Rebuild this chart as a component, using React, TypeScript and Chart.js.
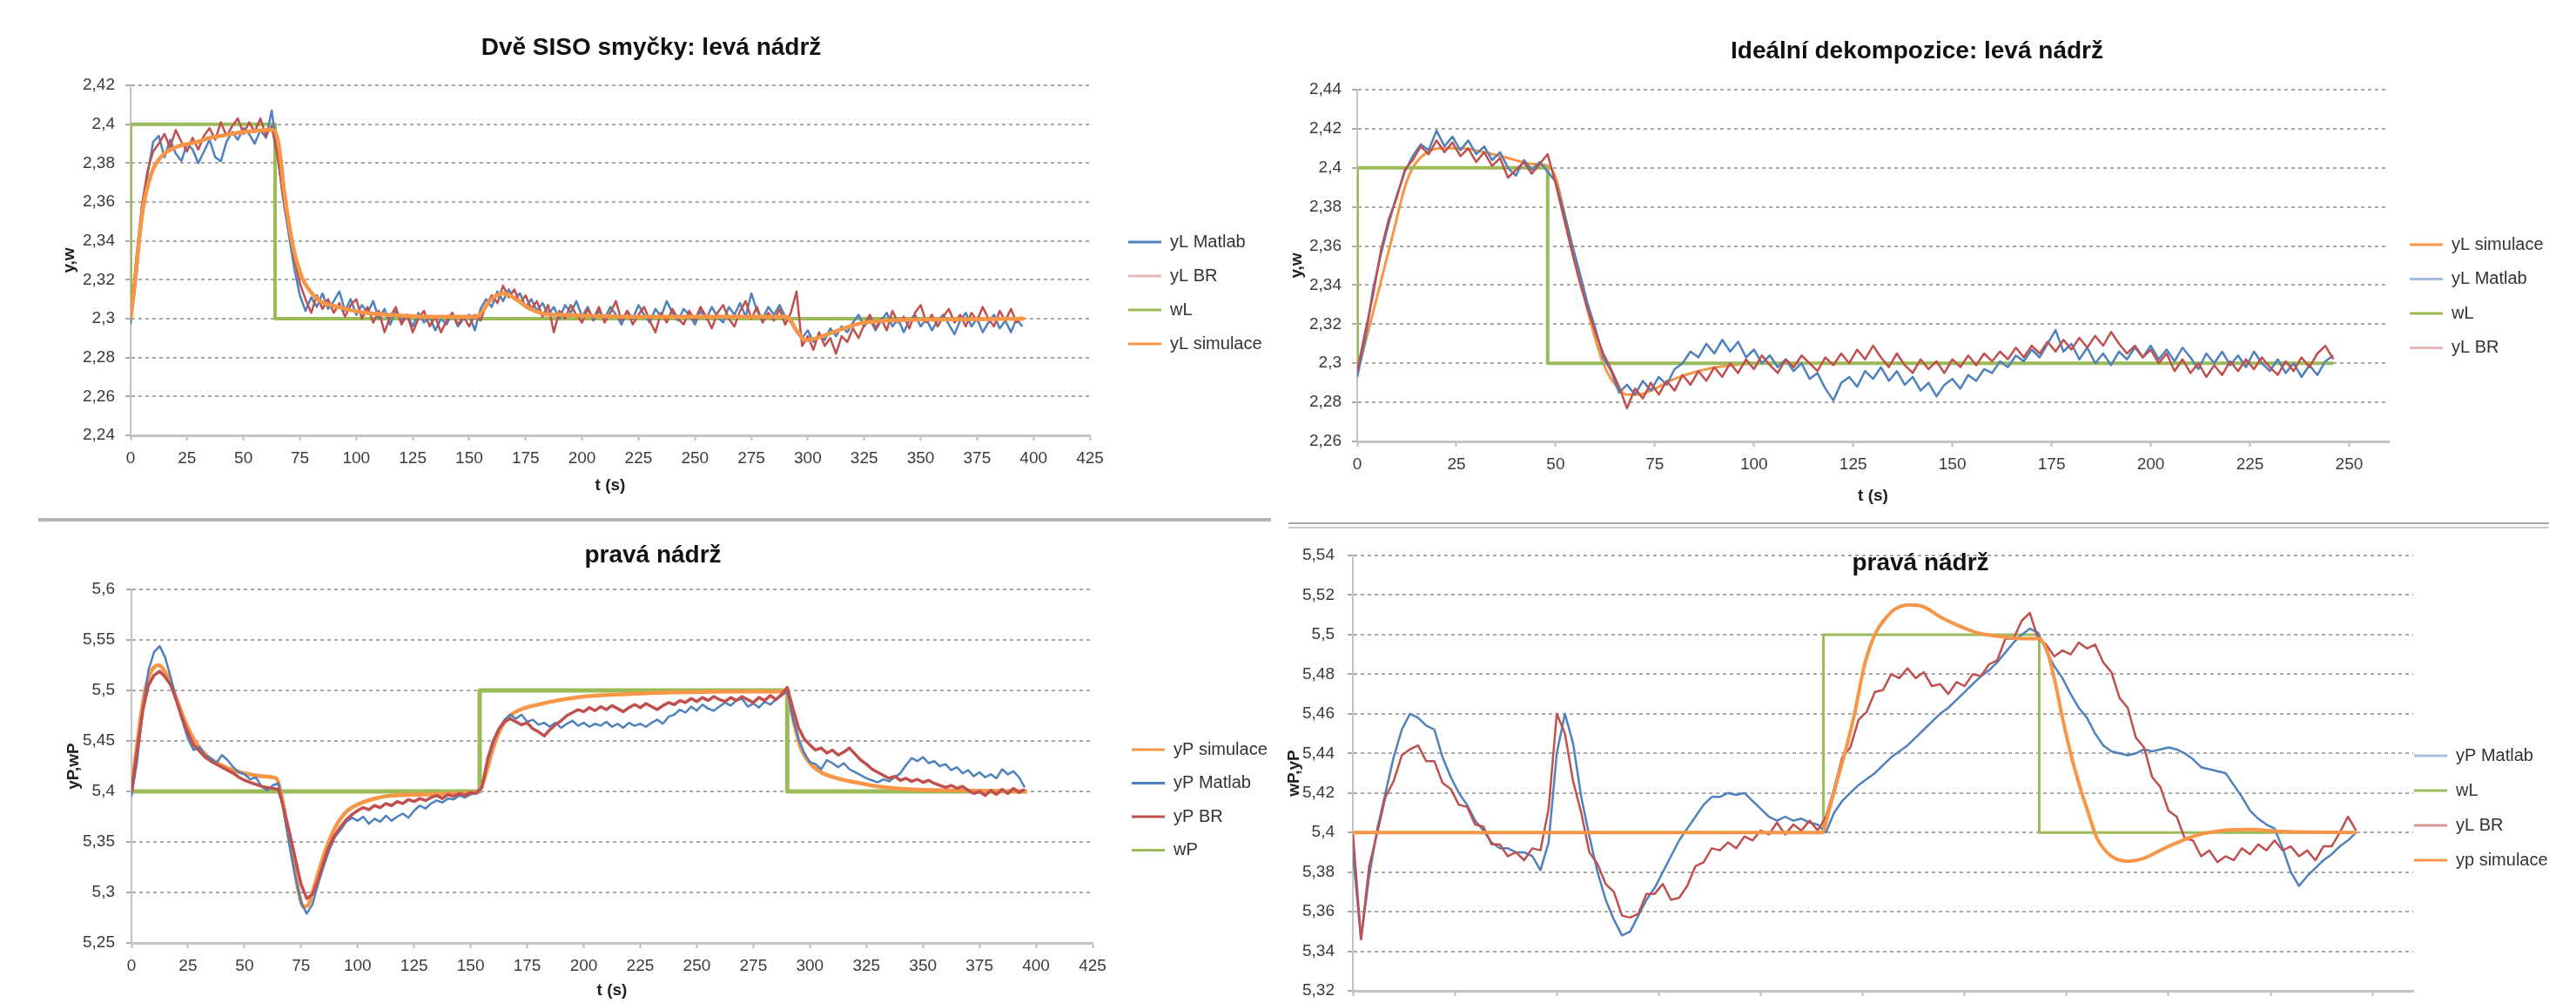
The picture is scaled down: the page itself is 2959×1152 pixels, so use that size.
import React, { useEffect, useRef } from 'react';
import { Chart, registerables } from 'chart.js';

Chart.register(...registerables);

// ================= DATA =================
// Panel A – "Dvě SISO smyčky: levá nádrž" (measured series sampled every 2.5 s)
const A_DT = 2.5;
const A_MATLAB = [
  2.297, 2.322, 2.352, 2.374, 2.391, 2.394, 2.383, 2.392, 2.385, 2.381,
  2.390, 2.387, 2.380, 2.386, 2.392, 2.383, 2.381, 2.391, 2.396, 2.392,
  2.398, 2.395, 2.390, 2.397, 2.393, 2.407, 2.386, 2.362, 2.344, 2.326,
  2.312, 2.304, 2.311, 2.306, 2.313, 2.305, 2.309, 2.314, 2.304, 2.310,
  2.302, 2.307, 2.303, 2.309, 2.300, 2.305, 2.297, 2.304, 2.299, 2.302,
  2.296, 2.303, 2.298, 2.301, 2.294, 2.300, 2.297, 2.303, 2.296, 2.300,
  2.302, 2.294, 2.305, 2.310, 2.306, 2.314, 2.309, 2.315, 2.310, 2.313,
  2.306, 2.310, 2.304, 2.308, 2.302, 2.306, 2.300, 2.307, 2.303, 2.309,
  2.301, 2.306, 2.299, 2.304, 2.300, 2.306, 2.302, 2.297, 2.304, 2.300,
  2.307, 2.302, 2.298, 2.305, 2.301, 2.309, 2.303, 2.299, 2.305, 2.302,
  2.297, 2.304, 2.300, 2.306, 2.301, 2.298, 2.306, 2.302, 2.308, 2.301,
  2.313, 2.304, 2.300, 2.306, 2.302, 2.307, 2.301, 2.298, 2.293, 2.290,
  2.294, 2.288, 2.292, 2.289, 2.295, 2.291, 2.296, 2.293, 2.298, 2.302,
  2.296, 2.300, 2.294, 2.299, 2.303, 2.296, 2.300, 2.293, 2.299, 2.302,
  2.296, 2.300, 2.294, 2.299, 2.302, 2.297, 2.292, 2.299, 2.303, 2.296,
  2.300, 2.293, 2.298, 2.302, 2.295, 2.299, 2.293, 2.300, 2.296,
];
const A_BR = [
  2.300, 2.331, 2.358, 2.376, 2.386, 2.390, 2.395, 2.388, 2.397, 2.391,
  2.386, 2.393, 2.387, 2.394, 2.398, 2.392, 2.401, 2.394, 2.399, 2.403,
  2.395, 2.401, 2.396, 2.403, 2.394, 2.399, 2.384, 2.364, 2.346, 2.331,
  2.318, 2.310, 2.303, 2.312, 2.305, 2.310, 2.303, 2.308, 2.301, 2.307,
  2.310, 2.300, 2.306, 2.298, 2.304, 2.293, 2.301, 2.306, 2.297, 2.302,
  2.293, 2.300, 2.304, 2.296, 2.301, 2.293, 2.299, 2.303, 2.297, 2.301,
  2.296, 2.302, 2.299, 2.307, 2.312, 2.308, 2.317, 2.311, 2.315, 2.308,
  2.312, 2.305, 2.309, 2.301, 2.307, 2.293, 2.304, 2.300, 2.307, 2.302,
  2.298, 2.305, 2.300, 2.306, 2.298, 2.303, 2.309, 2.299, 2.304, 2.297,
  2.302, 2.306, 2.299, 2.293, 2.303, 2.298, 2.305, 2.300, 2.297, 2.304,
  2.299, 2.306, 2.301, 2.295, 2.303, 2.307, 2.300, 2.296, 2.304, 2.309,
  2.300, 2.306, 2.298, 2.303, 2.299, 2.305, 2.297, 2.303, 2.314, 2.286,
  2.291, 2.284, 2.293, 2.286, 2.290, 2.282, 2.291, 2.288, 2.295, 2.290,
  2.297, 2.302, 2.295, 2.300, 2.294, 2.304, 2.298, 2.301, 2.295, 2.303,
  2.307, 2.298, 2.302, 2.296, 2.301, 2.305, 2.298, 2.302, 2.296, 2.303,
  2.299, 2.306, 2.300, 2.296, 2.304, 2.299, 2.305, 2.298, 2.301,
];
const A_W_T = [0, 0, 64, 64, 396];
const A_W = [2.3, 2.4, 2.4, 2.3, 2.3];
const A_SIM_T = [
  0, 2, 4, 6, 8, 10, 12, 15, 18, 22, 26, 30, 35, 40, 45, 50, 55, 60, 63, 65,
  66.5, 68, 70, 72, 74, 76, 79, 84, 92, 104, 114, 134, 153, 156, 159, 162, 165, 168, 172, 177,
  183, 190, 203, 220, 260, 290, 292, 295, 299, 304, 310, 316, 323, 334, 350, 370, 396,
];
const A_SIM = [
  2.300, 2.319, 2.343, 2.360, 2.370, 2.377, 2.381, 2.385, 2.387, 2.389, 2.390, 2.391, 2.393, 2.394, 2.395, 2.396, 2.3965, 2.397, 2.397, 2.393,
  2.382, 2.366, 2.350, 2.337, 2.328, 2.321, 2.315, 2.309, 2.306, 2.303, 2.302, 2.301, 2.301, 2.304, 2.309, 2.312, 2.313, 2.312, 2.309, 2.305,
  2.3025, 2.302, 2.3015, 2.301, 2.301, 2.301, 2.2995, 2.294, 2.289, 2.290, 2.2925, 2.295, 2.2975, 2.299, 2.2995, 2.2997, 2.300,
];

// Panel B – "Ideální dekompozice: levá nádrž" (sampled every 2 s)
const B_DT = 2;
const B_MATLAB = [
  2.293, 2.312, 2.338, 2.356, 2.372, 2.386, 2.398, 2.406, 2.412, 2.409,
  2.419, 2.411, 2.416, 2.409, 2.414, 2.407, 2.411, 2.404, 2.408, 2.400,
  2.396, 2.404, 2.399, 2.403, 2.398, 2.393, 2.378, 2.362, 2.347, 2.331,
  2.318, 2.303, 2.296, 2.285, 2.289, 2.284, 2.291, 2.286, 2.293, 2.289,
  2.297, 2.300, 2.306, 2.303, 2.310, 2.305, 2.312, 2.306, 2.311, 2.303,
  2.307, 2.300, 2.304, 2.298, 2.302, 2.296, 2.300, 2.292, 2.295, 2.287,
  2.281, 2.290, 2.293, 2.288, 2.296, 2.292, 2.298, 2.291, 2.296, 2.289,
  2.293, 2.286, 2.290, 2.283, 2.289, 2.292, 2.287, 2.294, 2.291, 2.297,
  2.295, 2.301, 2.298, 2.304, 2.301, 2.307, 2.303, 2.310, 2.317, 2.306,
  2.310, 2.302, 2.308, 2.300, 2.305, 2.299, 2.306, 2.302, 2.308, 2.303,
  2.309, 2.302, 2.307, 2.301, 2.308, 2.303, 2.297, 2.305, 2.300, 2.306,
  2.299, 2.304, 2.298, 2.306, 2.300, 2.296, 2.302, 2.295, 2.300, 2.293,
  2.299, 2.294, 2.301, 2.304,
];
const B_BR = [
  2.296, 2.316, 2.335, 2.358, 2.374, 2.385, 2.399, 2.404, 2.411, 2.407,
  2.414, 2.408, 2.413, 2.406, 2.410, 2.403, 2.408, 2.401, 2.405, 2.395,
  2.399, 2.403, 2.397, 2.402, 2.407, 2.392, 2.375, 2.358, 2.342, 2.328,
  2.316, 2.305, 2.297, 2.288, 2.277, 2.287, 2.282, 2.290, 2.284, 2.291,
  2.286, 2.294, 2.289, 2.296, 2.291, 2.298, 2.293, 2.300, 2.295, 2.302,
  2.297, 2.304, 2.299, 2.295, 2.302, 2.298, 2.304, 2.300, 2.296, 2.303,
  2.299, 2.305, 2.300, 2.307, 2.302, 2.309, 2.303, 2.298, 2.305, 2.299,
  2.295, 2.302, 2.297, 2.301, 2.295, 2.302, 2.298, 2.304, 2.299, 2.305,
  2.301, 2.306, 2.302, 2.308, 2.303, 2.309, 2.305, 2.311, 2.306, 2.312,
  2.307, 2.313, 2.308, 2.314, 2.309, 2.316, 2.310, 2.305, 2.309, 2.303,
  2.307, 2.300, 2.305, 2.296, 2.302, 2.295, 2.300, 2.293, 2.299, 2.294,
  2.301, 2.296, 2.302, 2.297, 2.303, 2.298, 2.294, 2.301, 2.296, 2.303,
  2.298, 2.305, 2.309, 2.302,
];
const B_W_T = [0, 0, 48, 48, 246];
const B_W = [2.3, 2.4, 2.4, 2.3, 2.3];
const B_SIM_T = [0, 3, 6, 9, 12, 14, 17, 21, 26, 32, 38, 44, 48, 50, 53, 56, 59, 62, 65, 68, 71, 75, 80, 86, 94, 105, 120, 246];
const B_SIM = [
  2.295, 2.318, 2.342, 2.366, 2.390, 2.400, 2.407, 2.410, 2.410, 2.408, 2.405, 2.402, 2.401, 2.395,
  2.370, 2.345, 2.320, 2.300, 2.289, 2.284, 2.284, 2.287, 2.292, 2.296, 2.299, 2.300, 2.300, 2.300,
];

// Panel C – "pravá nádrž" (two SISO loops, sampled every 2.5 s)
const C_DT = 2.5;
const C_MATLAB = [
  5.395, 5.430, 5.480, 5.520, 5.538, 5.544, 5.532, 5.512, 5.490, 5.470,
  5.452, 5.441, 5.444, 5.436, 5.433, 5.428, 5.436, 5.431, 5.424, 5.419,
  5.417, 5.412, 5.414, 5.405, 5.401, 5.406, 5.408, 5.378, 5.345, 5.315,
  5.290, 5.279, 5.288, 5.308, 5.326, 5.342, 5.355, 5.362, 5.370, 5.374,
  5.371, 5.375, 5.368, 5.373, 5.370, 5.376, 5.371, 5.375, 5.378, 5.374,
  5.381, 5.386, 5.383, 5.388, 5.391, 5.389, 5.393, 5.392, 5.396, 5.394,
  5.397, 5.399, 5.405, 5.430, 5.448, 5.462, 5.471, 5.476, 5.472, 5.476,
  5.469, 5.471, 5.466, 5.468, 5.464, 5.468, 5.463, 5.467, 5.470, 5.465,
  5.468, 5.464, 5.467, 5.465, 5.469, 5.464, 5.467, 5.463, 5.468, 5.465,
  5.467, 5.464, 5.468, 5.471, 5.467, 5.474, 5.476, 5.481, 5.478, 5.484,
  5.480, 5.486, 5.482, 5.480, 5.484, 5.488, 5.485, 5.490, 5.492, 5.484,
  5.487, 5.483, 5.489, 5.486, 5.491, 5.495, 5.499, 5.472, 5.452, 5.438,
  5.429, 5.427, 5.422, 5.431, 5.428, 5.424, 5.428, 5.422, 5.419, 5.416,
  5.413, 5.411, 5.409, 5.412, 5.410, 5.414, 5.418, 5.426, 5.433, 5.430,
  5.434, 5.428, 5.430, 5.425, 5.427, 5.421, 5.424, 5.418, 5.421, 5.415,
  5.419, 5.414, 5.417, 5.413, 5.422, 5.417, 5.420, 5.414, 5.404,
];
const C_BR = [
  5.400, 5.440, 5.480, 5.505, 5.515, 5.519, 5.513, 5.505, 5.489, 5.472,
  5.458, 5.446, 5.440, 5.434, 5.430, 5.427, 5.424, 5.421, 5.418, 5.414,
  5.411, 5.409, 5.407, 5.405, 5.404, 5.403, 5.402, 5.382, 5.358, 5.333,
  5.308, 5.294, 5.298, 5.312, 5.330, 5.346, 5.357, 5.365, 5.372, 5.377,
  5.381, 5.384, 5.382, 5.386, 5.384, 5.388, 5.386, 5.390, 5.388, 5.392,
  5.390, 5.393, 5.391, 5.394, 5.396, 5.393, 5.397, 5.395, 5.398, 5.396,
  5.399, 5.398, 5.404, 5.432, 5.450, 5.462, 5.469, 5.472, 5.469, 5.466,
  5.468, 5.462, 5.459, 5.455, 5.461, 5.466, 5.470, 5.475, 5.478, 5.481,
  5.479, 5.483, 5.480, 5.484, 5.481, 5.485, 5.482, 5.479, 5.483, 5.486,
  5.483, 5.487, 5.484, 5.481, 5.485, 5.488, 5.486, 5.490, 5.488, 5.492,
  5.489, 5.493, 5.490, 5.494, 5.491, 5.489, 5.493, 5.490, 5.494, 5.491,
  5.488, 5.493, 5.490, 5.495, 5.491, 5.496, 5.503, 5.482, 5.463, 5.452,
  5.446, 5.441, 5.443, 5.438, 5.441, 5.436, 5.439, 5.443, 5.437, 5.431,
  5.427, 5.422, 5.419, 5.416, 5.413, 5.415, 5.411, 5.413, 5.410, 5.412,
  5.409, 5.411, 5.408, 5.406, 5.404, 5.406, 5.403, 5.405, 5.401, 5.398,
  5.400, 5.396, 5.401, 5.397, 5.402, 5.398, 5.403, 5.399, 5.402,
];
const C_W_T = [0, 154, 154, 290, 290, 396];
const C_W = [5.4, 5.4, 5.5, 5.5, 5.4, 5.4];
const C_SIM_T = [
  0, 3, 6, 9, 12, 15, 18, 21, 24, 28, 33, 38, 45, 52, 58, 64, 66, 68, 70, 72,
  74, 76, 78, 80, 83, 86, 90, 95, 100, 106, 115, 130, 145, 153, 156, 159, 162, 165, 168, 172,
  178, 188, 200, 215, 240, 270, 289, 291, 293, 296, 300, 305, 312, 320, 330, 345, 365, 396,
];
const C_SIM = [
  5.400, 5.455, 5.500, 5.520, 5.525, 5.518, 5.503, 5.485, 5.468, 5.450, 5.436, 5.428, 5.421, 5.417, 5.415, 5.413, 5.400, 5.375, 5.350, 5.325,
  5.300, 5.286, 5.287, 5.300, 5.322, 5.343, 5.364, 5.380, 5.387, 5.392, 5.396, 5.397, 5.398, 5.400, 5.412, 5.436, 5.456, 5.469, 5.476, 5.481,
  5.485, 5.490, 5.494, 5.496, 5.498, 5.499, 5.499, 5.488, 5.468, 5.443, 5.428, 5.419, 5.413, 5.409, 5.405, 5.402, 5.401, 5.400,
];

// Panel D – "pravá nádrž" (ideal decomposition, sampled every 2 s)
const D_DT = 2;
const D_MATLAB = [
  5.390, 5.346, 5.378, 5.402, 5.420, 5.438, 5.452, 5.460, 5.458, 5.454,
  5.452, 5.438, 5.428, 5.420, 5.414, 5.406, 5.401, 5.395, 5.392, 5.392,
  5.390, 5.390, 5.388, 5.381, 5.395, 5.440, 5.460, 5.445, 5.418, 5.398,
  5.380, 5.366, 5.356, 5.348, 5.350, 5.358, 5.366, 5.372, 5.380, 5.388,
  5.396, 5.402, 5.408, 5.414, 5.418, 5.418, 5.420, 5.419, 5.420, 5.416,
  5.412, 5.408, 5.406, 5.408, 5.406, 5.407, 5.405, 5.404, 5.400, 5.410,
  5.416, 5.420, 5.424, 5.427, 5.430, 5.434, 5.438, 5.441, 5.444, 5.448,
  5.452, 5.456, 5.460, 5.463, 5.467, 5.471, 5.475, 5.479, 5.482, 5.486,
  5.491, 5.496, 5.500, 5.503, 5.501, 5.492, 5.484, 5.478, 5.470, 5.463,
  5.458, 5.450, 5.444, 5.441, 5.440, 5.439, 5.440, 5.442, 5.441, 5.442,
  5.443, 5.442, 5.440, 5.437, 5.433, 5.432, 5.431, 5.430, 5.424, 5.418,
  5.411, 5.407, 5.404, 5.402, 5.392, 5.380, 5.373, 5.378, 5.382, 5.386,
  5.389, 5.393, 5.396, 5.400,
];
const D_BR = [
  5.400, 5.346, 5.383, 5.400, 5.418, 5.426, 5.439, 5.442, 5.444, 5.436,
  5.436, 5.425, 5.422, 5.414, 5.413, 5.404, 5.403, 5.394, 5.394, 5.388,
  5.390, 5.386, 5.392, 5.391, 5.412, 5.460, 5.450, 5.426, 5.410, 5.390,
  5.384, 5.374, 5.370, 5.358, 5.357, 5.359, 5.369, 5.369, 5.374, 5.366,
  5.367, 5.373, 5.383, 5.385, 5.392, 5.391, 5.395, 5.392, 5.398, 5.396,
  5.401, 5.399, 5.405, 5.399, 5.404, 5.401, 5.406, 5.401, 5.408, 5.422,
  5.438, 5.443, 5.457, 5.461, 5.471, 5.472, 5.480, 5.478, 5.483, 5.478,
  5.481, 5.474, 5.475, 5.470, 5.476, 5.474, 5.480, 5.479, 5.485, 5.487,
  5.498, 5.498, 5.507, 5.511, 5.498, 5.495, 5.489, 5.492, 5.490, 5.496,
  5.493, 5.495, 5.486, 5.481, 5.468, 5.463, 5.448, 5.443, 5.428, 5.423,
  5.411, 5.408, 5.397, 5.396, 5.388, 5.391, 5.385, 5.388, 5.386, 5.392,
  5.389, 5.394, 5.391, 5.396, 5.391, 5.393, 5.388, 5.391, 5.386, 5.393,
  5.393, 5.400, 5.408, 5.401,
];
const D_W_T = [0, 115.4, 115.4, 168.3, 168.3, 246];
const D_W = [5.4, 5.4, 5.5, 5.5, 5.4, 5.4];
const D_SIM_T = [
  0, 115, 117, 119, 121, 123, 125.5, 128, 130.5, 133, 136.5, 140, 144, 148, 153, 159, 165, 168.3, 170.5, 172.5,
  174, 176, 178, 180, 182.5, 186, 190, 194, 199, 206, 213, 220, 228, 246,
];
const D_SIM = [
  5.400, 5.400, 5.413, 5.428, 5.443, 5.460, 5.485, 5.500, 5.508, 5.513, 5.515, 5.514, 5.509, 5.505, 5.501, 5.499, 5.498, 5.498, 5.490, 5.473,
  5.458, 5.440, 5.425, 5.412, 5.397, 5.388, 5.3855, 5.387, 5.392, 5.398, 5.401, 5.4015, 5.4005, 5.400,
];

// ================= STYLE / LAYOUT =================
const FONT = "'Liberation Sans', Arial, Helvetica, sans-serif";
const BLUE = '#4f81bd';
const RED = '#c0504d';
const GREEN = '#9bbb59';
const ORANGE = '#f79646';
const PINK = '#e6b9b8';
const LIGHT_BLUE = '#a7bfde';
const GRID = '#a9a9a9';
const AXIS = '#c4c4c4';
const TICK_TEXT = '#3a3a3a';

function sampled(values: number[], dt: number) {
  return values.map((y, i) => ({ x: Math.round(i * dt * 1000) / 1000, y }));
}
function paired(ts: number[], vs: number[]) {
  return ts.map((x, i) => ({ x, y: vs[i] }));
}
function fmtComma(v: any) {
  const n = Math.round(Number(v) * 1000) / 1000;
  return String(n).replace('.', ',');
}

// moves the title/legend boxes to fixed spots after Chart.js lays out the chart
const boxPlacer = {
  id: 'boxPlacer',
  afterLayout(chart: any, _args: any, opts: any) {
    const t = chart.titleBlock;
    if (t && opts.titleCenter != null) {
      t.left = opts.titleCenter - 600;
      t.right = opts.titleCenter + 600;
      t.width = 1200;
    }
    const lg = chart.legend;
    if (lg && opts.legendLeft != null) {
      lg.left = opts.legendLeft;
      lg.right = opts.legendLeft + 400;
      lg.width = 400;
      lg.top = opts.legendTop;
      lg.bottom = opts.legendTop + 400;
      lg.height = 400;
    }
  },
};

interface Series {
  label: string;
  data: { x: number; y: number }[];
  color: string;
  legendColor: string;
  width: number;
  order: number;
  smooth?: boolean;
}
interface Panel {
  box: { left: number; top: number; width: number; height: number };
  padR: number;
  padT: number;
  title: string;
  titlePad: { top: number; bottom: number };
  titleCenter: number;
  yTitle: string;
  yTitlePad: number;
  yWidth: number;
  yMin: number;
  yMax: number;
  yStep: number;
  yTickPad: number;
  xMax: number;
  xHeight: number;
  xTitlePad: number;
  legendLeft: number;
  legendTop: number;
  legendPad: number;
  series: Series[];
}

const PANELS: Panel[] = [
  {
    box: { left: 0, top: 0, width: 1480, height: 580 },
    padR: 168, padT: 0,
    title: 'Dvě SISO smyčky: levá nádrž', titlePad: { top: 38.2, bottom: 26.2 }, titleCenter: 748,
    yTitle: 'y,w', yTitlePad: 70.5, yWidth: 150, yMin: 2.24, yMax: 2.42, yStep: 0.02, yTickPad: 12,
    xMax: 425, xHeight: 80, xTitlePad: 12.5,
    legendLeft: 1277, legendTop: 249, legendPad: 19,
    series: [
      { label: 'yL Matlab', data: sampled(A_MATLAB, A_DT), color: BLUE, legendColor: BLUE, width: 2.5, order: 2 },
      { label: 'yL BR', data: sampled(A_BR, A_DT), color: RED, legendColor: PINK, width: 2.5, order: 1 },
      { label: 'wL', data: paired(A_W_T, A_W), color: GREEN, legendColor: GREEN, width: 4, order: 3 },
      { label: 'yL simulace', data: paired(A_SIM_T, A_SIM), color: ORANGE, legendColor: ORANGE, width: 4.5, order: 0, smooth: true },
    ],
  },
  {
    box: { left: 1480, top: 0, width: 1479, height: 590 },
    padR: 155, padT: 0,
    title: 'Ideální dekompozice: levá nádrž', titlePad: { top: 42.2, bottom: 27.2 }, titleCenter: 722,
    yTitle: 'y,w', yTitlePad: 0.5, yWidth: 79, yMin: 2.26, yMax: 2.44, yStep: 0.02, yTickPad: 12,
    xMax: 260, xHeight: 83, xTitlePad: 10.5,
    legendLeft: 1268.5, legendTop: 251.5, legendPad: 19.5,
    series: [
      { label: 'yL simulace', data: paired(B_SIM_T, B_SIM), color: ORANGE, legendColor: ORANGE, width: 3, order: 3, smooth: true },
      { label: 'yL Matlab', data: sampled(B_MATLAB, B_DT), color: BLUE, legendColor: LIGHT_BLUE, width: 2.5, order: 1 },
      { label: 'wL', data: paired(B_W_T, B_W), color: GREEN, legendColor: GREEN, width: 4, order: 2 },
      { label: 'yL BR', data: sampled(B_BR, B_DT), color: RED, legendColor: PINK, width: 2.5, order: 0 },
    ],
  },
  {
    box: { left: 0, top: 590, width: 1480, height: 562 },
    padR: 165, padT: 0,
    title: 'pravá nádrž', titlePad: { top: 31.2, bottom: 22.2 }, titleCenter: 750,
    yTitle: 'yP,wP', yTitlePad: 75.5, yWidth: 151, yMin: 5.25, yMax: 5.6, yStep: 0.05, yTickPad: 13,
    xMax: 425, xHeight: 69, xTitlePad: 4.5,
    legendLeft: 1281.5, legendTop: 242.5, legendPad: 18.5,
    series: [
      { label: 'yP simulace', data: paired(C_SIM_T, C_SIM), color: ORANGE, legendColor: ORANGE, width: 4.5, order: 2, smooth: true },
      { label: 'yP Matlab', data: sampled(C_MATLAB, C_DT), color: BLUE, legendColor: BLUE, width: 2.5, order: 1 },
      { label: 'yP BR', data: sampled(C_BR, C_DT), color: RED, legendColor: RED, width: 3.5, order: 0 },
      { label: 'wP', data: paired(C_W_T, C_W), color: GREEN, legendColor: GREEN, width: 5, order: 3 },
    ],
  },
  {
    box: { left: 1476, top: 580, width: 1460, height: 638 },
    padR: 104, padT: 58,
    title: 'pravá nádrž', titlePad: { top: -7.8, bottom: -25.8 }, titleCenter: 730,
    yTitle: 'wP,yP', yTitlePad: 1.5, yWidth: 78, yMin: 5.32, yMax: 5.54, yStep: 0.02, yTickPad: 15,
    xMax: 260, xHeight: 80, xTitlePad: 12.5,
    legendLeft: 1277, legendTop: 258, legendPad: 20,
    series: [
      { label: 'yP Matlab', data: sampled(D_MATLAB, D_DT), color: BLUE, legendColor: LIGHT_BLUE, width: 2.5, order: 2 },
      { label: 'wL', data: paired(D_W_T, D_W), color: GREEN, legendColor: GREEN, width: 3, order: 3 },
      { label: 'yL BR', data: sampled(D_BR, D_DT), color: RED, legendColor: '#d99694', width: 2.5, order: 1 },
      { label: 'yp simulace', data: paired(D_SIM_T, D_SIM), color: ORANGE, legendColor: ORANGE, width: 4, order: 0, smooth: true },
    ],
  },
];

function makeConfig(p: Panel): any {
  const legendColors = p.series.map((s) => s.legendColor);
  return {
    type: 'line',
    data: {
      datasets: p.series.map((s) => ({
        label: s.label,
        data: s.data,
        borderColor: s.color,
        backgroundColor: s.color,
        borderWidth: s.width,
        pointRadius: 0,
        pointHoverRadius: 0,
        fill: false,
        tension: s.smooth ? 0.4 : 0,
        cubicInterpolationMode: s.smooth ? 'monotone' : 'default',
        borderJoinStyle: 'round',
        order: s.order,
      })),
    },
    plugins: [boxPlacer],
    options: {
      responsive: false,
      animation: false,
      devicePixelRatio: 1,
      events: [],
      layout: { padding: { left: 0, right: p.padR, top: p.padT, bottom: 0 } },
      plugins: {
        tooltip: { enabled: false },
        title: {
          display: true,
          text: p.title,
          color: '#111',
          font: { family: FONT, size: 28, weight: 'bold', lineHeight: 1.2 },
          padding: p.titlePad,
        },
        legend: {
          display: true,
          position: 'right',
          align: 'start',
          maxWidth: 60,
          labels: {
            boxWidth: 38,
            boxHeight: 3,
            padding: p.legendPad,
            color: '#333',
            font: { family: FONT, size: 20 },
            generateLabels: (chart: any) =>
              chart.data.datasets.map((ds: any, i: number) => ({
                text: ds.label,
                fillStyle: legendColors[i],
                strokeStyle: legendColors[i],
                lineWidth: 0,
                hidden: false,
                datasetIndex: i,
                fontColor: '#333',
              })),
          },
        },
        boxPlacer: {
          titleCenter: p.titleCenter,
          legendLeft: p.legendLeft,
          legendTop: p.legendTop,
        },
      },
      scales: {
        x: {
          type: 'linear',
          position: 'bottom',
          min: 0,
          max: p.xMax,
          afterFit: (s: any) => { s.height = p.xHeight; },
          ticks: {
            stepSize: 25,
            includeBounds: false,
            maxTicksLimit: 100,
            autoSkip: false,
            maxRotation: 0,
            padding: 9.5,
            color: TICK_TEXT,
            font: { family: FONT, size: 19 },
            callback: (v: any) => String(v),
          },
          grid: { drawOnChartArea: false, drawTicks: true, tickLength: 6, tickColor: '#bdbdbd', tickWidth: 2, color: '#bdbdbd' },
          border: { display: true, color: AXIS, width: 3 },
          title: {
            display: true,
            text: 't (s)',
            color: '#222',
            font: { family: FONT, size: 19, weight: 'bold', lineHeight: 1 },
            padding: { top: 0, bottom: p.xTitlePad },
          },
        },
        y: {
          type: 'linear',
          position: 'left',
          min: p.yMin,
          max: p.yMax,
          afterFit: (s: any) => { s.width = p.yWidth; },
          ticks: {
            stepSize: p.yStep,
            maxTicksLimit: 100,
            autoSkip: false,
            padding: p.yTickPad,
            color: TICK_TEXT,
            font: { family: FONT, size: 19 },
            callback: (v: any) => fmtComma(v),
          },
          grid: { color: GRID, lineWidth: 2, drawTicks: true, tickLength: 6, tickColor: GRID, tickWidth: 2 },
          border: { display: true, color: AXIS, width: 2, dash: [4, 4] },
          title: {
            display: true,
            text: p.yTitle,
            color: '#222',
            font: { family: FONT, size: 19, weight: 'bold', lineHeight: 1 },
            padding: { top: p.yTitlePad, bottom: 0 },
          },
        },
      },
    },
  };
}

function PanelChart({ panel }: { panel: Panel }) {
  const ref = useRef<HTMLCanvasElement | null>(null);
  useEffect(() => {
    if (!ref.current) return;
    const chart = new Chart(ref.current, makeConfig(panel));
    return () => chart.destroy();
  }, [panel]);
  const b = panel.box;
  return (
    <canvas
      ref={ref}
      width={b.width}
      height={b.height}
      style={{ position: 'absolute', left: b.left, top: b.top, width: b.width, height: b.height }}
    />
  );
}

export default function App() {
  return (
    <div
      style={{
        position: 'fixed',
        left: 0,
        top: 0,
        width: 2959,
        height: 1152,
        overflow: 'hidden',
        background: '#ffffff',
      }}
    >
      <div style={{ position: 'absolute', left: 44, top: 595, width: 1416, height: 4, background: '#b6b6b6' }} />
      <div
        style={{
          position: 'absolute',
          left: 1480,
          top: 600,
          width: 1448,
          height: 3,
          borderTop: '2px solid #a4a4a4',
          borderBottom: '2px solid #cdcdcd',
        }}
      />
      {PANELS.map((p, i) => (
        <PanelChart key={i} panel={p} />
      ))}
    </div>
  );
}
